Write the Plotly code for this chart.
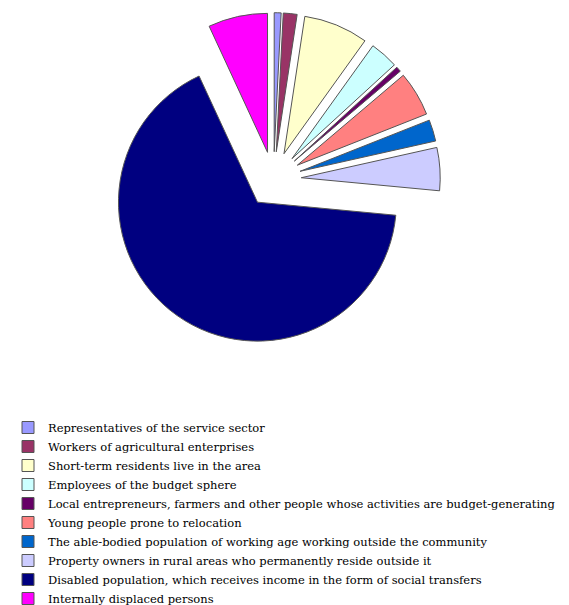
import plotly.graph_objects as go

categories = [
    "Representatives of the service sector",
    "Workers of agricultural enterprises",
    "Short-term residents live in the area",
    "Employees of the budget sphere",
    "Local entrepreneurs, farmers and other people whose activities are budget-generating",
    "Young people prone to relocation",
    "The able-bodied population of working age working outside the community",
    "Property owners in rural areas who permanently reside outside it",
    "Disabled population, which receives income in the form of social transfers",
    "Internally displaced persons",
]
values = [0.8, 1.6, 7.5, 3.3, 0.6, 5.2, 2.5, 5.0, 66.6, 6.9]
colors = ["#9999FF", "#993366", "#FFFFCC", "#CCFFFF", "#660066",
          "#FF8080", "#0066CC", "#CCCCFF", "#000080", "#FF00FF"]

W, H = 569, 605
cx, cy, side = 265.5, 182, 354

fig = go.Figure(go.Pie(
    labels=categories,
    values=values,
    sort=False,
    direction="clockwise",
    rotation=0,
    pull=[0.2] * len(values),
    marker=dict(colors=colors, line=dict(color="#555555", width=1)),
    textinfo="none",
    domain=dict(x=[(cx - side / 2) / W, (cx + side / 2) / W],
                y=[1 - (cy + side / 2) / H, 1 - (cy - side / 2) / H]),
))

fig.update_layout(
    width=W, height=H,
    margin=dict(l=0, r=0, t=0, b=0),
    paper_bgcolor="white",
    showlegend=True,
    legend=dict(
        x=0.0, xanchor="left",
        y=0.289, yanchor="top",
        font=dict(family="DejaVu Serif", size=11.5, color="black"),
        traceorder="normal",
        bgcolor="rgba(0,0,0,0)",
    ),
)

fig.write_html("out.html")
